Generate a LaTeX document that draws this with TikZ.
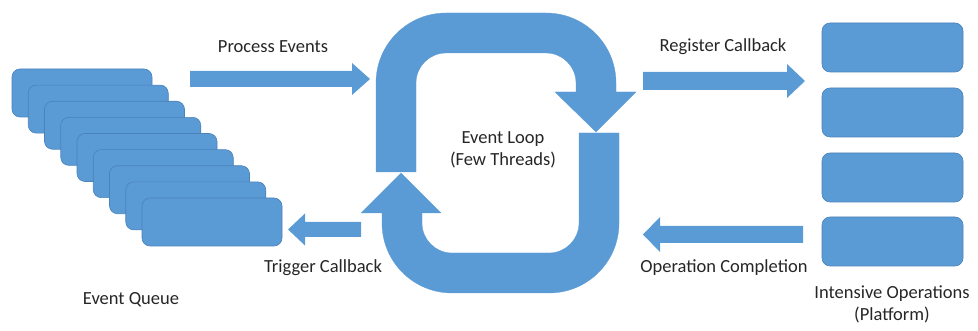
\documentclass[tikz,border=0pt]{standalone}
\usepackage{fontspec}
\setmainfont{Carlito}
\usetikzlibrary{calc}
\definecolor{blk}{HTML}{5B9BD5}
\definecolor{blkline}{HTML}{4A82BA}
\definecolor{txt}{HTML}{262626}
\newcommand{\blockarrow}[5]{%
  \fill[arrowfill] ($(#1)+(0,#3)$) -- ($(#2)+({-1*(#5)},#3)$) -- ($(#2)+({-1*(#5)},#4)$) -- (#2)
    -- ($(#2)+({-1*(#5)},{-1*(#4)})$) -- ($(#2)+({-1*(#5)},{-1*(#3)})$) -- ($(#1)+(0,{-1*(#3)})$) -- cycle;}
\tikzset{
  card/.style={draw=blkline, line width=0.6pt, fill=blk, rounded corners=8pt, anchor=north west, inner sep=0pt, outer sep=0pt},
  qcard/.style={card, minimum width=140pt, minimum height=48pt},
  opcard/.style={card, minimum width=141pt, minimum height=49pt},
  arrowfill/.style={fill=blk},
  loopfill/.style={fill=blk, draw=blk, line width=0.3pt},
  lbl/.style={text=txt, font=\fontsize{18.5pt}{22pt}\selectfont, inner sep=0pt, align=center}
}
\begin{document}
\begin{tikzpicture}[x=1pt,y=1pt]
\useasboundingbox (0,0) rectangle (978,-331);
% Event queue cards
\foreach \i in {0,...,8}{
  \node[qcard] (q\i) at ({12+16.25*\i},{-(69+16.125*\i)}) {};
}
% Intensive operations
\node[opcard] (op1) at (822,-23) {};
\node[opcard] (op2) at (822,-88) {};
\node[opcard] (op3) at (822,-153) {};
\node[opcard] (op4) at (822,-217) {};
% Event loop (two U-turn arrows)
\fill[loopfill] (376,-172) -- (376,-83) arc[start angle=180, end angle=90, radius=70]
  -- (546,-13) arc[start angle=90, end angle=0, radius=70]
  -- (616,-92) -- (636,-92) -- (596,-132) -- (555,-92) -- (576,-92) -- (576,-83)
  arc[start angle=0, end angle=90, radius=30] -- (446,-53)
  arc[start angle=90, end angle=180, radius=30] -- (416,-172) -- cycle;
\fill[loopfill] (579,-133) -- (619,-133) -- (619,-223) arc[start angle=0, end angle=-90, radius=70]
  -- (452,-293) arc[start angle=270, end angle=180, radius=70]
  -- (382,-213) -- (361,-213) -- (401,-173) -- (441,-213) -- (422,-213) -- (422,-223)
  arc[start angle=180, end angle=270, radius=30] -- (549,-253)
  arc[start angle=270, end angle=360, radius=30] -- cycle;
\node[lbl] (loop) at (503,-149.5) {Event Loop\\(Few Threads)};
% Block arrows
\coordinate (pe1) at (190,-79);   \coordinate (pe2) at (370,-79);
\coordinate (rc1) at (643,-81);   \coordinate (rc2) at (805,-81);
\coordinate (tc1) at (361,-229.5); \coordinate (tc2) at (288,-229.5);
\coordinate (oc1) at (803,-234.5); \coordinate (oc2) at (643,-234.5);
\blockarrow{pe1}{pe2}{8}{16}{18}
\blockarrow{rc1}{rc2}{9}{17}{18}
\blockarrow{tc1}{tc2}{7.5}{16}{-17}
\blockarrow{oc1}{oc2}{8.5}{17.5}{-17}
% Labels
\node[lbl] (lpe) at (273,-47) {Process Events};
\node[lbl] (lrc) at (723,-47) {Register Callback};
\node[lbl] (ltc) at (323,-268) {Trigger Callback};
\node[lbl] (loc) at (724,-268) {Operation Completion};
\node[lbl] (leq) at (131,-300) {Event Queue};
\node[lbl] (lio) at (892,-304) {Intensive Operations\\(Platform)};
\end{tikzpicture}
\end{document}
